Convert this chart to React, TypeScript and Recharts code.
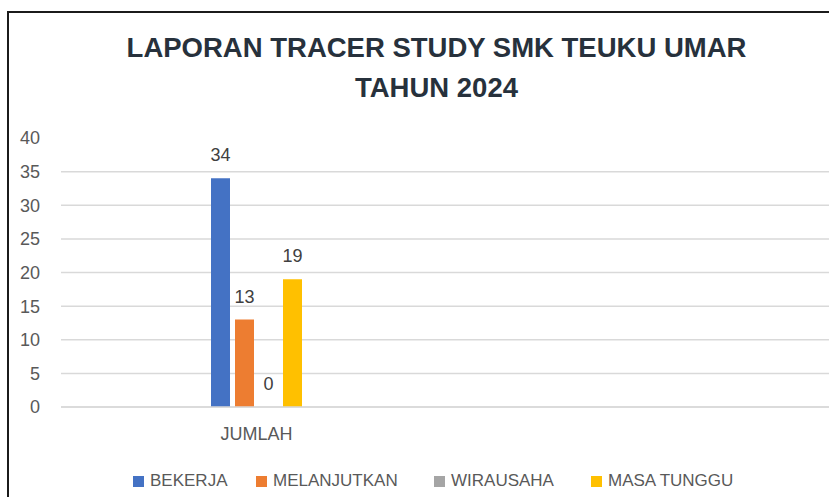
import React from 'react';
import { BarChart, Bar, XAxis, YAxis, CartesianGrid, Legend, LabelList } from 'recharts';

const CATEGORIES = ['JUMLAH', ''];
const BEKERJA = [34, null];
const MELANJUTKAN = [13, null];
const WIRAUSAHA = [0, null];
const MASA_TUNGGU = [19, null];
const Y_TICKS = [0, 5, 10, 15, 20, 25, 30, 35, 40];
const GRID_VALUES = [0, 5, 10, 15, 20, 25, 30, 35];

const SERIES = [
  { key: 'BEKERJA', values: BEKERJA, color: '#4472C4' },
  { key: 'MELANJUTKAN', values: MELANJUTKAN, color: '#ED7D31' },
  { key: 'WIRAUSAHA', values: WIRAUSAHA, color: '#A5A5A5' },
  { key: 'MASA TUNGGU', values: MASA_TUNGGU, color: '#FFC000' },
];

// legend item widths (square + text + gap), matching the reference spacing
const LEGEND_WIDTHS = [123, 178, 157, 160];

const data = CATEGORIES.map((name, i) => {
  const row: Record<string, string | number | null> = { name };
  SERIES.forEach((s) => {
    row[s.key] = s.values[i];
  });
  return row;
});

const FONT = '"Liberation Sans", Arial, sans-serif';

const renderLegend = () => (
  <div style={{ display: 'flex', height: 20, lineHeight: '20px', paddingLeft: 133, fontFamily: FONT, fontSize: 17, color: '#595959' }}>
    {SERIES.map((s, i) => (
      <div key={s.key} style={{ display: 'flex', alignItems: 'center', width: LEGEND_WIDTHS[i], whiteSpace: 'nowrap' }}>
        <span style={{ display: 'inline-block', width: 11, height: 11, background: s.color, marginRight: 6 }} />
        <span>{s.key}</span>
      </div>
    ))}
  </div>
);

// value label above each bar, drawn also for zero-height bars
const renderValueLabel = (props: any) => {
  const { x, y, width, height, value } = props;
  if (value === null || value === undefined) return null;
  const top = Math.min(Number(y), Number(y) + Number(height || 0));
  return (
    <text x={Number(x) + Number(width) / 2} y={top - 17} textAnchor="middle" fill="#404040" fontSize={18} fontFamily={FONT}>
      {String(value)}
    </text>
  );
};

export default function App() {
  return (
    <div style={{ position: 'absolute', left: 0, top: 0, width: 829, height: 497, overflow: 'hidden', background: '#fff' }}>
      <div
        style={{
          position: 'absolute',
          left: 7,
          top: 11,
          width: 900,
          height: 600,
          borderLeft: '2px solid #1b1b1b',
          borderTop: '2px solid #1b1b1b',
        }}
      />
      <div
        style={{
          position: 'absolute',
          left: 0,
          top: 28,
          width: 873,
          textAlign: 'center',
          fontFamily: FONT,
          fontWeight: 'bold',
          fontSize: 27.5,
          lineHeight: '40px',
          color: '#27313C',
          zIndex: 2,
        }}
      >
        LAPORAN TRACER STUDY SMK TEUKU UMAR
        <br />
        TAHUN 2024
      </div>
      <div style={{ position: 'absolute', left: 0, top: 0 }}>
        <BarChart width={843} height={497} data={data} margin={{ top: 138, right: 0, left: 0, bottom: 30 }} barGap={5}>
          <CartesianGrid vertical={false} horizontalValues={GRID_VALUES} stroke="#D9D9D9" strokeWidth={1.5} />
          <XAxis
            dataKey="name"
            height={40}
            tickSize={0}
            tickMargin={20}
            axisLine={{ stroke: '#D9D9D9', strokeWidth: 1.5 }}
            tick={{ fill: '#595959', fontSize: 18, fontFamily: FONT }}
          />
          <YAxis
            width={61}
            domain={[0, 40]}
            ticks={Y_TICKS}
            tickSize={0}
            tickMargin={21}
            axisLine={false}
            tickLine={false}
            tick={{ fill: '#595959', fontSize: 18, fontFamily: FONT }}
          />
          <Legend content={renderLegend} verticalAlign="bottom" wrapperStyle={{ left: 0, bottom: 6 }} />
          {SERIES.map((s) => (
            <Bar key={s.key} dataKey={s.key} fill={s.color} barSize={19} minPointSize={0.01} isAnimationActive={false}>
              <LabelList dataKey={s.key} content={renderValueLabel} />
            </Bar>
          ))}
        </BarChart>
      </div>
    </div>
  );
}
